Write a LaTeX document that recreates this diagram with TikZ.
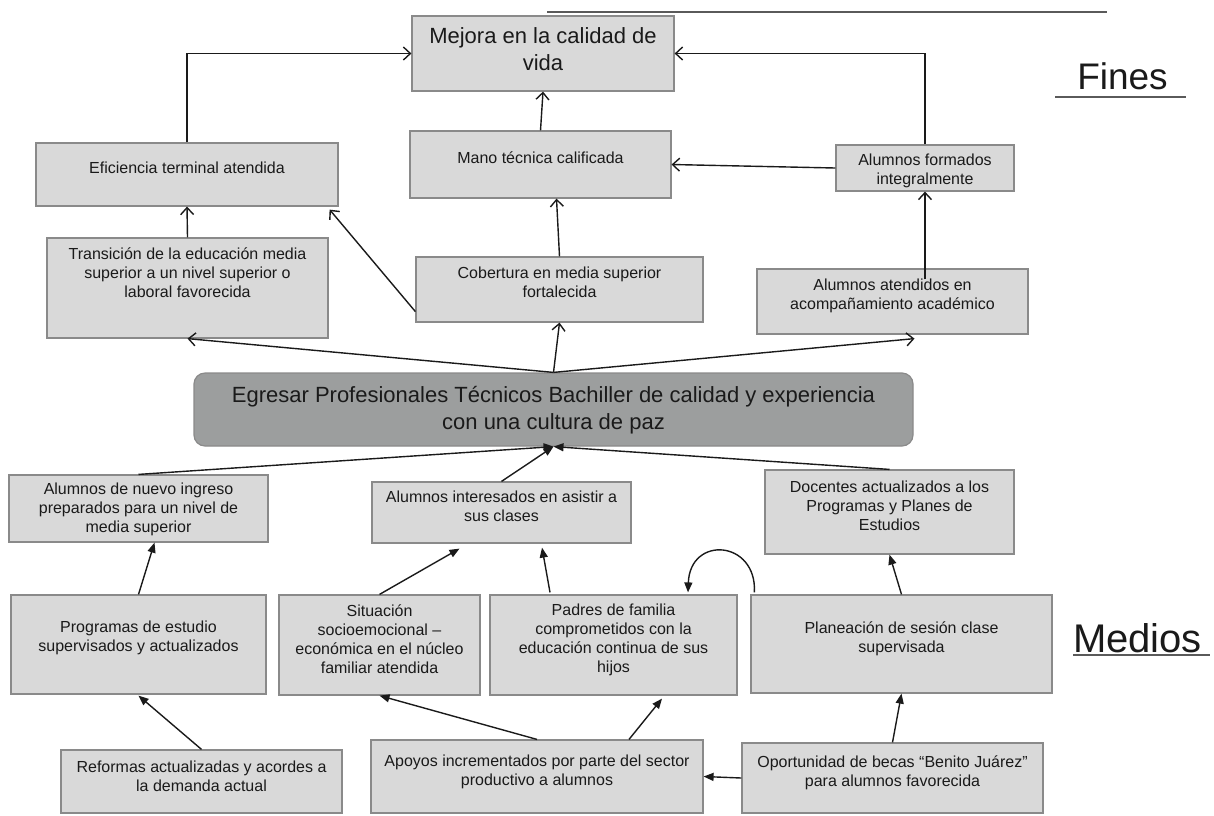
\documentclass[tikz,border=0pt]{standalone}
\usepackage{fontspec}
\setmainfont{Liberation Sans}
\usetikzlibrary{arrows.meta,calc}
\definecolor{boxfill}{HTML}{D9D9D9}
\definecolor{boxline}{HTML}{8A8A8A}
\definecolor{cenfill}{HTML}{9C9E9E}
\definecolor{ink}{HTML}{1A1A1A}
\definecolor{rule}{HTML}{5A5A5A}
\tikzset{
  box/.style={draw=boxline, fill=boxfill, line width=1.2pt, inner sep=0pt},
  cenbox/.style={draw=boxline, fill=cenfill, line width=1.2pt, inner sep=0pt, rounded corners=11pt},
  txt/.style={align=center, inner sep=0pt, text=ink, font=\fontsize{16}{19}\selectfont},
  bigtxt/.style={align=center, inner sep=0pt, text=ink, font=\fontsize{22}{27}\selectfont},
  up/.style={draw=ink, line width=1.4pt, -{Straight Barb[length=7pt,width=13pt,line width=1.4pt]}},
  dn/.style={draw=ink, line width=1.4pt, -{Triangle[length=10pt,width=8pt]}},
  hrule/.style={draw=rule, line width=1.2pt},
  label/.style={inner sep=0pt, text=ink, anchor=base}
}
\newcommand\bx[9]{%
  \node[#2, minimum width={(#6-#4)*1pt}, minimum height={(#7-#5)*1pt}] (#1) at ({(#4+#6)/2},{(#5+#7)/2}) {};
  \node[#3] (#1T) at ({(#4+#6)/2},#8) {#9};
}
\begin{document}
\begin{tikzpicture}[x=1pt,y=-1pt]
\useasboundingbox (0,0) rectangle (1214,815);

% rules and side labels
\coordinate (tl1) at (547,12);
\coordinate (tl2) at (1107,12);
\draw[hrule] (tl1) -- (tl2);
\node[label, font=\fontsize{37}{40}\selectfont] (fines) at (1122.5,89) {Fines};
\coordinate (fu1) at (1055,97);
\coordinate (fu2) at (1186,97);
\draw[hrule] (fu1) -- (fu2);
\node[label, font=\fontsize{40}{44}\selectfont] (medios) at (1137.5,652) {Medios};
\coordinate (mu1) at (1073,655);
\coordinate (mu2) at (1210,655);
\draw[hrule] (mu1) -- (mu2);

% boxes: name, box style, text style, x1, y1, x2, y2, text y, text
\bx{mejora}{box}{bigtxt}{412}{16}{674}{91}{49}{Mejora en la calidad de\\vida}
\bx{eff}{box}{txt}{36}{143}{338}{206}{168}{Eficiencia terminal atendida}
\bx{mano}{box}{txt}{410}{131}{671}{198}{158}{Mano técnica calificada}
\bx{form}{box}{txt}{836}{145}{1014}{191}{170.5}{Alumnos formados\\integralmente}
\bx{trans}{box}{txt}{47}{238}{328}{338}{273}{Transición de la educación media\\superior a un nivel superior o\\laboral favorecida}
\bx{cob}{box}{txt}{416}{257}{703}{322}{282.5}{Cobertura en media superior\\fortalecida}
\bx{aten}{box}{txt}{757}{269}{1028}{334}{295.5}{Alumnos atendidos en\\acompañamiento académico}
\bx{cen}{cenbox}{bigtxt}{194}{373}{913}{446}{410}{Egresar Profesionales Técnicos Bachiller de calidad y experiencia\\con una cultura de paz}
\bx{nuevo}{box}{txt}{9}{475}{268}{542}{509.5}{Alumnos de nuevo ingreso\\preparados para un nivel de\\media superior}
\bx{inter}{box}{txt}{372}{482}{631}{543}{506.5}{Alumnos interesados en asistir a\\sus clases}
\bx{doc}{box}{txt}{765}{470}{1014}{554}{506}{Docentes actualizados a los\\Programas y Planes de\\Estudios}
\bx{prog}{box}{txt}{11}{595}{266}{694}{637.5}{Programas de estudio\\supervisados y actualizados}
\bx{sit}{box}{txt}{279}{595}{480}{695}{639.5}{Situación\\socioemocional –\\económica en el núcleo\\familiar atendida}
\bx{pad}{box}{txt}{490}{595}{737}{695}{639.5}{Padres de familia\\comprometidos con la\\educación continua de sus\\hijos}
\bx{plan}{box}{txt}{751}{595}{1052}{693}{638.5}{Planeación de sesión clase\\supervisada}
\bx{ref}{box}{txt}{61}{750}{342}{813}{776}{Reformas actualizadas y acordes a\\la demanda actual}
\bx{apo}{box}{txt}{371}{740}{703}{813}{771.5}{Apoyos incrementados por parte del sector\\productivo a alumnos}
\bx{opo}{box}{txt}{742}{743}{1043}{813}{772.5}{Oportunidad de becas “Benito Juárez”\\para alumnos favorecida}

% upper connectors (open heads)
\draw[up] (eff.north) |- (mejora.west);
\draw[up] (mano.north) -- (mejora.south);
\draw[up] (form.north) |- (mejora.east);
\draw[up] (form.west) -- (mano.east);
\draw[up] ([yshift=-11pt]form.south |- aten.north) -- (form.south);
\draw[up] (trans.north) -- (eff.south);
\draw[up] ([yshift=11pt]cob.south west) -- ([xshift=-9pt,yshift=-3pt]eff.south east);
\draw[up] (cob.north) -- ([xshift=-3pt]cob.north |- mano.south);
\draw[up] (cen.north) -- (trans.south);
\draw[up] (cen.north) -- (cob.south);
\draw[up] (cen.north) -- ([xshift=22pt,yshift=-4pt]aten.south);

% lower connectors (filled heads)
\draw[dn] (nuevo.north) -- (cen.south);
\draw[dn] (inter.north) -- (cen.south);
\draw[dn] (doc.north) -- (cen.south);
\draw[dn] (prog.north) -- ([xshift=16pt]nuevo.south);
\draw[dn] (sit.north) -- ([xshift=-42pt,yshift=-5pt]inter.south);
\draw[dn] ([xshift=-63.5pt,yshift=2pt]pad.north) -- ([xshift=40.5pt,yshift=-4pt]inter.south);
\draw[dn] (ref.north) -- ([yshift=-1pt]prog.south);
\draw[dn] (apo.north) -- (sit.south);
\draw[dn] ([xshift=92pt]apo.north) -- ([xshift=48.5pt,yshift=-3pt]pad.south);
\draw[dn] (opo.west) -- (apo.east);
\draw[dn] (opo.north) -- (plan.south);
\draw[dn] (plan.north) -- (doc.south);
\draw[dn] ([xshift=4pt,yshift=2pt]plan.north west) .. controls (757,540) and (690,535) .. ([xshift=74.5pt,yshift=2pt]pad.north);
\end{tikzpicture}
\end{document}
